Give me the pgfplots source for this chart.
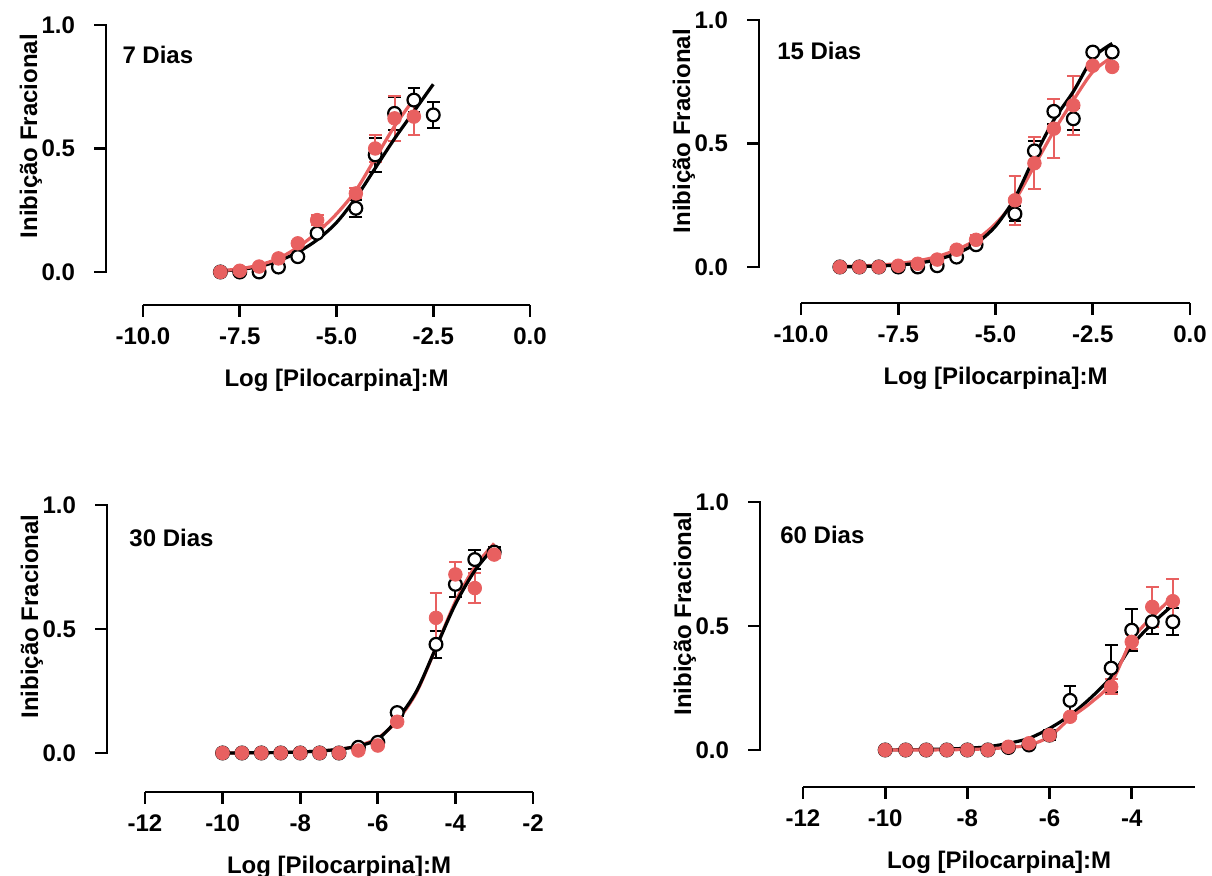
\documentclass[border=0pt]{standalone}
\usepackage{fontspec}
\setmainfont{Liberation Sans}
\usepackage{pgfplots}
\usepackage{pgfplotstable}
\pgfplotsset{compat=1.18}
\definecolor{rd}{RGB}{232,96,96}
\newcommand\lbl{\fontsize{12}{14}\selectfont\bfseries}

% ---- 7 dias
\pgfplotstableread{
x y e
-8 0.0 0
-7.5 0.0 0
-7 0.0 0
-6.5 0.02 0
-6 0.062 0
-5.5 0.157 0.01
-4.5 0.258 0.035
-4 0.474 0.07
-3.5 0.642 0.068
-3 0.696 0.05
-2.5 0.636 0.054
}\ptAb
\pgfplotstableread{
x y e
-8 0.0 0
-7.5 0.005 0
-7 0.022 0
-6.5 0.055 0
-6 0.116 0
-5.5 0.21 0.02
-4.5 0.318 0.02
-4 0.50 0.055
-3.5 0.622 0.09
-3 0.629 0.075
}\ptAr
\pgfplotstableread{
x y
-8 0.004
-7.5 0.01
-7 0.022
-6.5 0.045
-6 0.08
-5.5 0.13
-5 0.2
-4.5 0.30
-4 0.42
-3.5 0.54
-3 0.65
-2.5 0.76
}\fitAb
\pgfplotstableread{
x y
-8 0.005
-7.5 0.013
-7 0.028
-6.5 0.055
-6 0.10
-5.5 0.16
-5 0.235
-4.5 0.33
-4 0.46
-3.5 0.59
-3 0.70
}\fitAr

% ---- 15 dias
\pgfplotstableread{
x y e
-9 0 0
-8.5 0 0
-8 0 0
-7.5 0 0
-7 0 0
-6.5 0.005 0
-6 0.04 0
-5.5 0.09 0.01
-4.5 0.215 0.03
-4 0.47 0.04
-3.5 0.63 0.05
-3 0.60 0.045
-2.5 0.87 0.01
-2 0.87 0.01
}\ptBb
\pgfplotstableread{
x y e
-9 0 0
-8.5 0 0
-8 0 0
-7.5 0.005 0
-7 0.013 0
-6.5 0.03 0
-6 0.07 0.01
-5.5 0.11 0.02
-4.5 0.27 0.10
-4 0.42 0.105
-3.5 0.56 0.12
-3 0.655 0.12
-2.5 0.815 0
-2 0.81 0
}\ptBr
\pgfplotstableread{
x y
-9 0.0
-8.5 0.002
-8 0.004
-7.5 0.008
-7 0.015
-6.5 0.03
-6 0.055
-5.5 0.095
-5 0.165
-4.5 0.28
-4 0.445
-3.5 0.595
-3 0.71
-2.5 0.845
-2 0.905
}\fitBb
\pgfplotstableread{
x y
-9 0.002
-8.5 0.004
-8 0.008
-7.5 0.014
-7 0.025
-6.5 0.042
-6 0.07
-5.5 0.11
-5 0.175
-4.5 0.27
-4 0.41
-3.5 0.55
-3 0.675
-2.5 0.79
-2 0.85
}\fitBr

% ---- 30 dias
\pgfplotstableread{
x y e
-10 0 0
-9.5 0 0
-9 0 0
-8.5 0 0
-8 0 0
-7.5 0 0
-7 0 0
-6.5 0.023 0
-6 0.043 0
-5.5 0.163 0.015
-4.5 0.438 0.054
-4 0.68 0.05
-3.5 0.78 0.04
-3 0.81 0.02
}\ptCb
\pgfplotstableread{
x y e
-10 0 0
-9.5 0 0
-9 0 0
-8.5 0 0
-8 0 0
-7.5 0 0
-7 0 0
-6.5 0.01 0
-6 0.03 0
-5.5 0.126 0
-4.5 0.545 0.10
-4 0.72 0.05
-3.5 0.665 0.06
-3 0.80 0.015
}\ptCr
\pgfplotstableread{
x y
-10 0.0
-9 0.001
-8.5 0.002
-8 0.004
-7.5 0.008
-7 0.015
-6.5 0.028
-6 0.056
-5.5 0.135
-5 0.25
-4.5 0.425
-4 0.60
-3.5 0.735
-3 0.83
}\fitCb
\pgfplotstableread{
x y
-10 0.0
-9 0.001
-8.5 0.002
-8 0.004
-7.5 0.008
-7 0.014
-6.5 0.03
-6 0.06
-5.5 0.13
-5 0.245
-4.5 0.425
-4 0.61
-3.5 0.75
-3 0.845
}\fitCr

% ---- 60 dias
\pgfplotstableread{
x y e
-10 0 0
-9.5 0 0
-9 0 0
-8.5 0 0
-8 0 0
-7.5 0 0
-7 0.01 0
-6.5 0.02 0
-6 0.06 0.02
-5.5 0.20 0.06
-4.5 0.33 0.095
-4 0.483 0.085
-3.5 0.517 0.05
-3 0.517 0.055
}\ptDb
\pgfplotstableread{
x y e
-10 0 0
-9.5 0 0
-9 0 0
-8.5 0 0
-8 0 0
-7.5 0 0
-7 0.013 0
-6.5 0.027 0
-6 0.06 0.015
-5.5 0.134 0.01
-4.5 0.255 0.03
-4 0.436 0.03
-3.5 0.577 0.08
-3 0.60 0.09
}\ptDr
\pgfplotstableread{
x y
-10 0.0
-9.5 0.001
-9 0.002
-8.5 0.004
-8 0.007
-7.5 0.013
-7 0.027
-6.5 0.047
-6 0.087
-5.5 0.14
-5 0.21
-4.5 0.295
-4 0.42
-3.5 0.51
-3 0.584
}\fitDb
\pgfplotstableread{
x y
-10 0.0
-9 0.0
-8 0.002
-7.5 0.005
-7 0.01
-6.5 0.02
-6 0.054
-5.5 0.128
-5 0.19
-4.5 0.27
-4 0.443
-3.5 0.537
-3 0.617
}\fitDr

\pgfplotsset{
  prism/.style={scale only axis, clip=false, tick align=outside,
    major tick length=6pt,
    axis line style={line width=1.4pt, -},
    every tick/.style={black, line width=1.4pt},
    tick label style={font=\lbl}, label style={font=\lbl}},
  % y axis labels and ticks
  yaxis/.style={prism, axis y line*=left, hide x axis, ymin=0, ymax=1,
    xmin=0, xmax=1, width=1pt, height=123.5pt,
    ytick={0,0.5,1}, yticklabels={0.0,0.5,1.0},
    yticklabel style={xshift=-6pt},
    ylabel={Inibição Fracional},
    ylabel style={at={(axis description cs:0,0.55)}, anchor=center, yshift=37.5pt},
    anchor=south west},
  % x axis of a panel, set lower
  xaxis/.style={prism, axis x line*=bottom, hide y axis, ymin=0, ymax=1,
    height=10pt, ytick=\empty, xlabel={Log [Pilocarpina]:M},
    xlabel style={at={(axis description cs:0.5,0)}, anchor=center, yshift=-37.5pt},
    xticklabel style={yshift=-2pt},
    anchor=south west},
  % data only
  dat/.style={scale only axis, clip=false, hide axis, ymin=0, ymax=1,
    anchor=south west},
  blk/.style={black, only marks, mark=*, mark size=3.2pt,
    mark options={fill=white, draw=black, line width=1.1pt},
    error bars/.cd, y dir=both, y explicit,
    error bar style={black, line width=1pt},
    error mark options={rotate=90, mark size=3.2pt, line width=1pt, black}},
  rdpt/.style={rd, only marks, mark=*, mark size=3.4pt,
    mark options={fill=rd, draw=rd},
    error bars/.cd, y dir=both, y explicit,
    error bar style={rd, line width=1pt},
    error mark options={rotate=90, mark size=3.2pt, line width=1pt, rd}},
  bfit/.style={black, line width=1.6pt, smooth, no marks},
  rfit/.style={rd, line width=1.6pt, smooth, no marks},
}
% ticks of the y axis
\newcommand\yticks{%
  \draw[black, line width=1.4pt] (axis cs:0,0) -- ++(-6pt,0);
  \draw[black, line width=1.4pt] (axis cs:0,0.5) -- ++(-6pt,0);
  \draw[black, line width=1.4pt] (axis cs:0,1) -- ++(-6pt,0);}
% y spine as a filled strip, at (x0,y0) with height h
\newcommand\spine[3]{%
  \fill[black] ($(#1,#2)+(-0.7pt,-0.7pt)$) rectangle ($(#1,#2)+(0.7pt,#3+0.7pt)$);}
\usetikzlibrary{calc}

\begin{document}
\begin{tikzpicture}
\useasboundingbox (0,0) rectangle (606pt,438pt);

% ===== 7 Dias
\begin{axis}[yaxis, at={(53pt,302pt)}]
\yticks
\end{axis}
\begin{axis}[xaxis, at={(71.5pt,285.5pt)}, width=193.5pt, xmin=-10, xmax=0,
  xtick={-10,-7.5,-5,-2.5,0}, xticklabels={-10.0,-7.5,-5.0,-2.5,0.0}]
\end{axis}
\begin{axis}[dat, at={(53pt,302pt)}, width=212pt, height=123.5pt, xmin=-10.956, xmax=0]
\addplot[blk] table[x=x, y=y, y error=e] {\ptAb};
\addplot[rdpt] table[x=x, y=y, y error=e] {\ptAr};
\addplot[bfit] table[x=x, y=y] {\fitAb};
\addplot[rfit] table[x=x, y=y] {\fitAr};
\node[anchor=west, inner sep=0pt, font=\lbl] at (axis cs:-10.54,0.88) {7 Dias};
\end{axis}
\spine{53pt}{302pt}{123.5pt}

% ===== 15 Dias
\begin{axis}[yaxis, at={(379.5pt,304.5pt)}]
\yticks
\end{axis}
\begin{axis}[xaxis, at={(400.5pt,286.5pt)}, width=194.5pt, xmin=-10, xmax=0,
  xtick={-10,-7.5,-5,-2.5,0}, xticklabels={-10.0,-7.5,-5.0,-2.5,0.0}]
\end{axis}
\begin{axis}[dat, at={(379.5pt,304.5pt)}, width=215.5pt, height=123.5pt, xmin=-11.08, xmax=0]
\addplot[blk] table[x=x, y=y, y error=e] {\ptBb};
\addplot[rdpt] table[x=x, y=y, y error=e] {\ptBr};
\addplot[rfit] table[x=x, y=y] {\fitBr};
\addplot[bfit] table[x=x, y=y] {\fitBb};
\node[anchor=west, inner sep=0pt, font=\lbl] at (axis cs:-10.62,0.875) {15 Dias};
\end{axis}
\spine{379.5pt}{304.5pt}{123.5pt}

% ===== 30 Dias
\begin{axis}[yaxis, at={(53.5pt,61.5pt)}, height=124pt]
\yticks
\end{axis}
\begin{axis}[xaxis, at={(72.5pt,42pt)}, width=194pt, xmin=-12, xmax=-2,
  xtick={-12,-10,-8,-6,-4,-2}, xticklabels={-12,-10,-8,-6,-4,-2}]
\end{axis}
\begin{axis}[dat, at={(53.5pt,61.5pt)}, height=124pt, width=213pt, xmin=-12.979, xmax=-2]
\addplot[blk] table[x=x, y=y, y error=e] {\ptCb};
\addplot[rdpt] table[x=x, y=y, y error=e] {\ptCr};
\addplot[rfit] table[x=x, y=y] {\fitCr};
\addplot[bfit] table[x=x, y=y] {\fitCb};
\node[anchor=west, inner sep=0pt, font=\lbl] at (axis cs:-12.41,0.867) {30 Dias};
\end{axis}
\spine{53.5pt}{61.5pt}{124pt}

% ===== 60 Dias
\begin{axis}[yaxis, at={(380pt,63pt)}, height=124pt]
\yticks
\end{axis}
\begin{axis}[xaxis, at={(401.5pt,44.5pt)}, width=196pt, xmin=-12, xmax=-2.46,
  xtick={-12,-10,-8,-6,-4}, xticklabels={-12,-10,-8,-6,-4}]
\end{axis}
\begin{axis}[dat, at={(380pt,63pt)}, height=124pt, width=217.5pt, xmin=-13.046, xmax=-2.46]
\addplot[blk] table[x=x, y=y, y error=e] {\ptDb};
\addplot[rdpt] table[x=x, y=y, y error=e] {\ptDr};
\addplot[bfit] table[x=x, y=y] {\fitDb};
\addplot[rfit] table[x=x, y=y] {\fitDr};
\node[anchor=west, inner sep=0pt, font=\lbl] at (axis cs:-12.56,0.867) {60 Dias};
\end{axis}
\spine{380pt}{63pt}{124pt}
\end{tikzpicture}
\end{document}
